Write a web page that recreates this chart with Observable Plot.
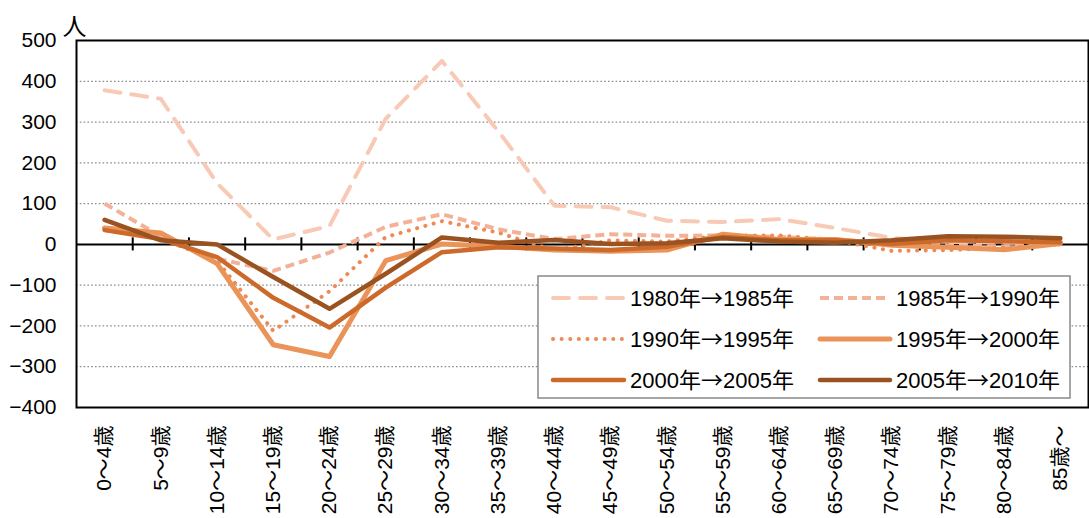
<!DOCTYPE html>
<html>
<head>
<meta charset="utf-8">
<script src="https://cdn.jsdelivr.net/npm/d3@7"></script>
<script src="https://cdn.jsdelivr.net/npm/@observablehq/plot@0.6"></script>
<style>
  html, body { margin: 0; padding: 0; background: #fff; }
  #chart svg { display: block; }
</style>
</head>
<body>
<div id="chart"></div>
<script>
// Age groups (x categories)
const ageGroups = ["0～4歳","5～9歳","10～14歳","15～19歳","20～24歳","25～29歳","30～34歳","35～39歳","40～44歳","45～49歳","50～54歳","55～59歳","60～64歳","65～69歳","70～74歳","75～79歳","80～84歳","85歳～"];

// Series names
const seriesNames = ["1980年→1985年","1985年→1990年","1990年→1995年","1995年→2000年","2000年→2005年","2005年→2010年"];

// Net migration (persons) per age group for each period
const s1980_1985 = [378, 357, 150, 12, 45, 308, 450, 278, 95, 91, 58, 55, 62, 40, 16, 6, 4, 5];
const s1985_1990 = [100, 20, -35, -65, -20, 43, 74, 37, 13, 25, 21, 22, 18, 12, 3, -3, -5, 0];
const s1990_1995 = [40, 15, -40, -212, -115, 18, 57, 29, -15, 10, 7, 22, 22, 10, -16, -14, -8, 0];
const s1995_2000 = [40, 28, -47, -246, -275, -40, 1, -5, -14, -17, -14, 25, 12, 12, -2, -7, -13, 2];
const s2000_2005 = [35, 13, -31, -131, -204, -106, -19, -7, -10, -14, -6, 18, 10, 10, 1, 10, 8, 5];
const s2005_2010 = [60, 10, 0, -80, -158, -72, 17, 4, 11, 1, 3, 15, 7, 4, 10, 20, 19, 15];

// Y axis ticks and grid values
const yTicks = [-400, -300, -200, -100, 0, 100, 200, 300, 400, 500];
const gridValues = [-300, -200, -100, 100, 200, 300, 400];
const yUnit = "人";

const seriesValues = [s1980_1985, s1985_1990, s1990_1995, s1995_2000, s2000_2005, s2005_2010];

// Styles (kept apart from data)
const styles = [
  {stroke: "#F8CAB6", strokeWidth: 4, strokeDasharray: "16,11", strokeLinecap: "round"},
  {stroke: "#F3B298", strokeWidth: 4, strokeDasharray: "9,5", strokeLinecap: "butt"},
  {stroke: "#EF8A55", strokeWidth: 4, strokeDasharray: "0.1,8.5", strokeLinecap: "round"},
  {stroke: "#EA9459", strokeWidth: 5, strokeDasharray: null, strokeLinecap: "round"},
  {stroke: "#CB6A2A", strokeWidth: 4.5, strokeDasharray: null, strokeLinecap: "round"},
  {stroke: "#9A5221", strokeWidth: 4.5, strokeDasharray: null, strokeLinecap: "round"}
];

const table = seriesNames.map((name, k) =>
  ageGroups.map((g, i) => ({series: name, i, v: seriesValues[k][i]}))
);
const boundaries = ageGroups.slice(1).map((g, i) => i + 0.5);

const FONT = "'Liberation Sans', Arial, 'Noto Sans CJK JP', sans-serif";
const CJK = "'Noto Sans CJK JP', sans-serif";
const fmt = d => d < 0 ? "\u2212" + Math.abs(d) : String(d);

const chart = Plot.plot({
  width: 1089,
  height: 518,
  marginLeft: 76,
  marginRight: 1,
  marginTop: 40,
  marginBottom: 111,
  style: {fontFamily: FONT, fontSize: "21px", color: "#000", background: "#fff"},
  x: {type: "linear", domain: [-0.5, ageGroups.length - 0.5]},
  y: {domain: [yTicks[0], yTicks[yTicks.length - 1]]},
  marks: [
    Plot.ruleY(gridValues, {stroke: "#8a8a8a", strokeWidth: 1.3, strokeDasharray: "1.6,2.2"}),
    Plot.ruleY([0], {stroke: "#000", strokeWidth: 2}),
    Plot.ruleX(boundaries, {y1: -16, y2: 16, stroke: "#000", strokeWidth: 2}),
    ...table.map((rows, k) => Plot.line(rows, {
      x: "i", y: "v",
      stroke: styles[k].stroke,
      strokeWidth: styles[k].strokeWidth,
      strokeDasharray: styles[k].strokeDasharray,
      strokeLinecap: styles[k].strokeLinecap,
      strokeLinejoin: "round"
    })),
    Plot.frame({stroke: "#000", strokeWidth: 2}),
    Plot.axisY({ticks: yTicks, tickSize: 0, tickPadding: 20, tickFormat: fmt, label: null, fontSize: 21}),
    Plot.axisX({ticks: d3.range(ageGroups.length), tickFormat: i => ageGroups[i], tickSize: 0, tickRotate: -90, tickPadding: 18, label: null, fontSize: 21}),
    Plot.text([yUnit], {frameAnchor: "top-left", dx: -2, dy: -23, fontSize: 24, textAnchor: "middle", fontFamily: CJK})
  ]
});

document.getElementById("chart").appendChild(chart);

// Legend inside the plot area
const svg = d3.select(chart);
const lg = svg.append("g").attr("font-family", FONT).attr("font-size", 22).attr("text-anchor", "start");
lg.append("rect").attr("x", 538).attr("y", 276).attr("width", 532).attr("height", 122)
  .attr("fill", "#fff").attr("stroke", "#888").attr("stroke-width", 1.5);
const rowsY = [298, 339, 380];
const cols = [{x0: 553, x1: 624, tx: 630}, {x0: 820, x1: 890, tx: 896}];
seriesNames.forEach((name, k) => {
  const r = Math.floor(k / 2), c = k % 2;
  const st = styles[k];
  lg.append("line")
    .attr("x1", cols[c].x0).attr("x2", cols[c].x1)
    .attr("y1", rowsY[r]).attr("y2", rowsY[r])
    .attr("stroke", st.stroke).attr("stroke-width", st.strokeWidth)
    .attr("stroke-dasharray", st.strokeDasharray)
    .attr("stroke-linecap", st.strokeLinecap);
  const t = lg.append("text").attr("x", cols[c].tx).attr("y", rowsY[r]).attr("dy", "0.35em")
    .attr("text-anchor", "start").attr("fill", "#000");
  name.split(/(→)/).forEach(part => {
    if (!part) return;
    const ts = t.append("tspan").text(part);
    if (part === "→") ts.attr("font-family", CJK);
  });
});
</script>
</body>
</html>
